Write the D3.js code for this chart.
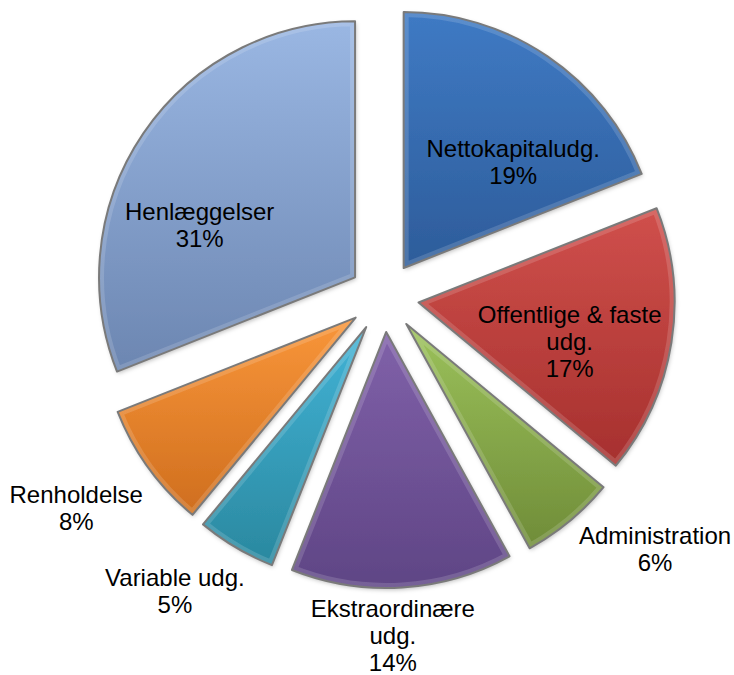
<!DOCTYPE html>
<meta charset="utf-8">
<style>
  body { margin: 0; background: #fff; }
  svg { display: block; }
  .lbl { font-family: "Liberation Sans", Arial, sans-serif; font-size: 24px; fill: #000; }
</style>
<body></body>
<script src="https://d3js.org/d3.v7.min.js"></script>
<script>

// data
var categories = ["Nettokapitaludg.", "Offentlige & faste udg.", "Administration",
                  "Ekstraordinære udg.", "Variable udg.", "Renholdelse", "Henlæggelser"];
var values = [19, 17, 6, 14, 5, 8, 31];
// label lines as shown in the chart
var labelLines = [["Nettokapitaludg.", "19%"], ["Offentlige & faste", "udg.", "17%"],
                  ["Administration", "6%"], ["Ekstraordinære", "udg.", "14%"],
                  ["Variable udg.", "5%"], ["Renholdelse", "8%"], ["Henlæggelser", "31%"]];

// colours: top / bottom of each slice gradient
var topColors = ["#3f7ac4", "#d0504c", "#9cc25b", "#8061a9", "#42b3d6", "#f9963a", "#9ab7e3"];
var bottomColors = ["#2d5c9a", "#a6302e", "#6f8c38", "#5f4585", "#2a889f", "#cf6e1e", "#6c86b1"];

// label placement, polar from pie centre (deg, px)
var labelAngle = [43.7, 103.6, 132.9, 178.5, 215.4, 235.6, 291.4];
var labelRadius = [187, 191, 370, 339, 361, 373, 198];

var width = 734, height = 675;
var cx = 384, cy = 297, radius = 256, explode = 35, lineH = 27;

var svg = d3.select("body").append("svg")
    .attr("width", width)
    .attr("height", height);

var defs = svg.append("defs");

categories.forEach(function(c, i) {
  var g = defs.append("linearGradient")
      .attr("id", "grad" + i)
      .attr("x1", 0).attr("y1", 0).attr("x2", 0).attr("y2", 1);
  g.append("stop").attr("offset", "0%").attr("stop-color", topColors[i]);
  g.append("stop").attr("offset", "100%").attr("stop-color", bottomColors[i]);
});

var shadow = defs.append("filter").attr("id", "shadow")
    .attr("x", "-10%").attr("y", "-10%").attr("width", "120%").attr("height", "120%");
shadow.append("feDropShadow")
    .attr("dx", 1).attr("dy", 2).attr("stdDeviation", 2)
    .attr("flood-color", "#000").attr("flood-opacity", 0.25);

var pie = d3.pie().sort(null).value(function(d) { return d; });
var arcs = pie(values);

var arc = d3.arc().innerRadius(0).outerRadius(radius);

var root = svg.append("g").attr("transform", "translate(" + cx + "," + cy + ")");

var slices = root.selectAll("g.slice")
    .data(arcs)
  .enter().append("g")
    .attr("class", "slice")
    .attr("transform", function(d) {
      var a = (d.startAngle + d.endAngle) / 2;
      return "translate(" + (Math.sin(a) * explode) + "," + (-Math.cos(a) * explode) + ")";
    });

slices.each(function(d, i) {
  var s = d3.select(this);
  var cp = defs.append("clipPath").attr("id", "clip" + i);
  cp.append("path").attr("d", arc(d));

  s.append("path")
      .attr("d", arc(d))
      .attr("fill", "url(#grad" + i + ")")
      .attr("filter", "url(#shadow)");

  // soft bevel on the inner edge
  var bev = s.append("g").attr("clip-path", "url(#clip" + i + ")");
  bev.append("path")
      .attr("d", arc(d))
      .attr("fill", "none")
      .attr("stroke", "#fff")
      .attr("stroke-opacity", 0.15)
      .attr("stroke-width", 10);

  s.append("path")
      .attr("d", arc(d))
      .attr("fill", "none")
      .attr("stroke", "#7a7a7a")
      .attr("stroke-width", 2)
      .attr("stroke-linejoin", "round");
});

// labels
var labels = root.selectAll("text.lbl")
    .data(arcs)
  .enter().append("text")
    .attr("class", "lbl")
    .attr("text-anchor", "middle")
    .attr("transform", function(d, i) {
      var a = labelAngle[i] * Math.PI / 180;
      var x = Math.sin(a) * labelRadius[i];
      var y = -Math.cos(a) * labelRadius[i];
      return "translate(" + x + "," + y + ")";
    });

labels.each(function(d, i) {
  var lines = labelLines[i];
  var t = d3.select(this);
  lines.forEach(function(l, j) {
    t.append("tspan")
        .attr("x", 0)
        .attr("y", (j - (lines.length - 1) / 2) * lineH)
        .attr("dy", "0.35em")
        .text(l);
  });
});

</script>
